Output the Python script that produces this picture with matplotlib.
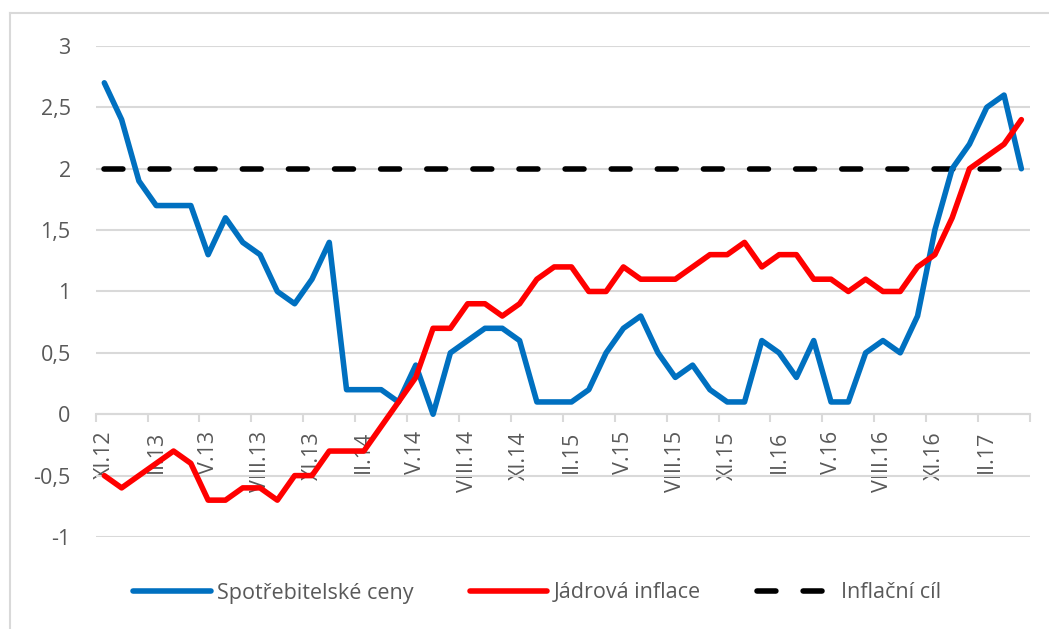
import matplotlib
matplotlib.use('Agg')
import matplotlib.pyplot as plt
from matplotlib.lines import Line2D
import numpy as np

plt.rcParams['font.family'] = ['Open Sans', 'DejaVu Sans']

# monthly values XI.2012 - IV.2017
cpi = [2.7, 2.4, 1.9, 1.7, 1.7, 1.7, 1.3, 1.6, 1.4, 1.3, 1.0, 0.9, 1.1, 1.4,
       0.2, 0.2, 0.2, 0.1, 0.4, 0.0, 0.5, 0.6, 0.7, 0.7, 0.6, 0.1,
       0.1, 0.1, 0.2, 0.5, 0.7, 0.8, 0.5, 0.3, 0.4, 0.2, 0.1, 0.1,
       0.6, 0.5, 0.3, 0.6, 0.1, 0.1, 0.5, 0.6, 0.5, 0.8, 1.5, 2.0,
       2.2, 2.5, 2.6, 2.0]
core = [-0.5, -0.6, -0.5, -0.4, -0.3, -0.4, -0.7, -0.7, -0.6, -0.6, -0.7, -0.5, -0.5, -0.3,
        -0.3, -0.3, -0.1, 0.1, 0.3, 0.7, 0.7, 0.9, 0.9, 0.8, 0.9, 1.1,
        1.2, 1.2, 1.0, 1.0, 1.2, 1.1, 1.1, 1.1, 1.2, 1.3, 1.3, 1.4,
        1.2, 1.3, 1.3, 1.1, 1.1, 1.0, 1.1, 1.0, 1.0, 1.2, 1.3, 1.6,
        2.0, 2.1, 2.2, 2.4]
target = [2.0] * len(cpi)

tick_labels = ['XI.12', 'II.13', 'V.13', 'VIII.13', 'XI.13', 'II.14', 'V.14', 'VIII.14',
               'XI.14', 'II.15', 'V.15', 'VIII.15', 'XI.15', 'II.16', 'V.16', 'VIII.16',
               'XI.16', 'II.17']
y_ticks = [-1, -0.5, 0, 0.5, 1, 1.5, 2, 2.5, 3]

GRID = '#D9D9D9'
TXT = '#595959'
FS = 15.5

n = len(cpi)
x = np.arange(n)

fig = plt.figure(figsize=(10.49, 6.29), dpi=100)
ax = fig.add_axes([0.0912, 0.1463, 0.8907, 0.7806])

ax.plot(x, cpi, color='#0070C0', lw=4, solid_capstyle='round', solid_joinstyle='round',
        label='Spotřebitelské ceny', zorder=3)
ax.plot(x, core, color='#FF0000', lw=4, solid_capstyle='round', solid_joinstyle='round',
        label='Jádrová inflace', zorder=4)
ax.plot(x, target, color='black', lw=4, dashes=(3.4, 4.9), dash_capstyle='round',
        label='Inflační cíl', zorder=2)

ax.set_xlim(-0.5, n - 0.5)
ax.set_ylim(-1, 3)

ax.set_yticks(y_ticks)
ax.set_yticklabels([('%g' % v).replace('.', ',') for v in y_ticks])
ax.yaxis.grid(True, color=GRID, lw=1.5)
ax.set_axisbelow(True)

for s in ['top', 'right', 'left']:
    ax.spines[s].set_visible(False)
ax.spines['bottom'].set_position(('data', 0))
ax.spines['bottom'].set_color(GRID)
ax.spines['bottom'].set_linewidth(1.5)
ax.spines['bottom'].set_zorder(1)

ax.set_xticks(x[::3])
ax.set_xticklabels(tick_labels, rotation=90, va='top', ha='center')
ax.set_xticks(np.arange(-0.5, n, 3), minor=True)
ax.tick_params(axis='x', which='major', length=0, pad=12, labelsize=FS, labelcolor=TXT)
ax.tick_params(axis='x', which='minor', length=6, width=1.5, color=GRID)
ax.tick_params(axis='y', length=0, pad=18, labelsize=FS, labelcolor=TXT)

leg = ax.legend(loc='center', ncol=3, frameon=False, fontsize=FS, handlelength=3.6,
                handletextpad=0.3, columnspacing=2.6)
for t in leg.get_texts():
    t.set_color(TXT)
leg.set_bbox_to_anchor((0.512, 1 - 593 / 629), transform=fig.transFigure)

# chart area frame
fig.add_artist(Line2D([10 / 1049, 10 / 1049], [0, 1 - 13 / 629], color=GRID, lw=1.5,
                      transform=fig.transFigure))
fig.add_artist(Line2D([10 / 1049, 1], [1 - 13 / 629, 1 - 13 / 629], color=GRID, lw=1.5,
                      transform=fig.transFigure))

fig.savefig('out.png', dpi=100)
